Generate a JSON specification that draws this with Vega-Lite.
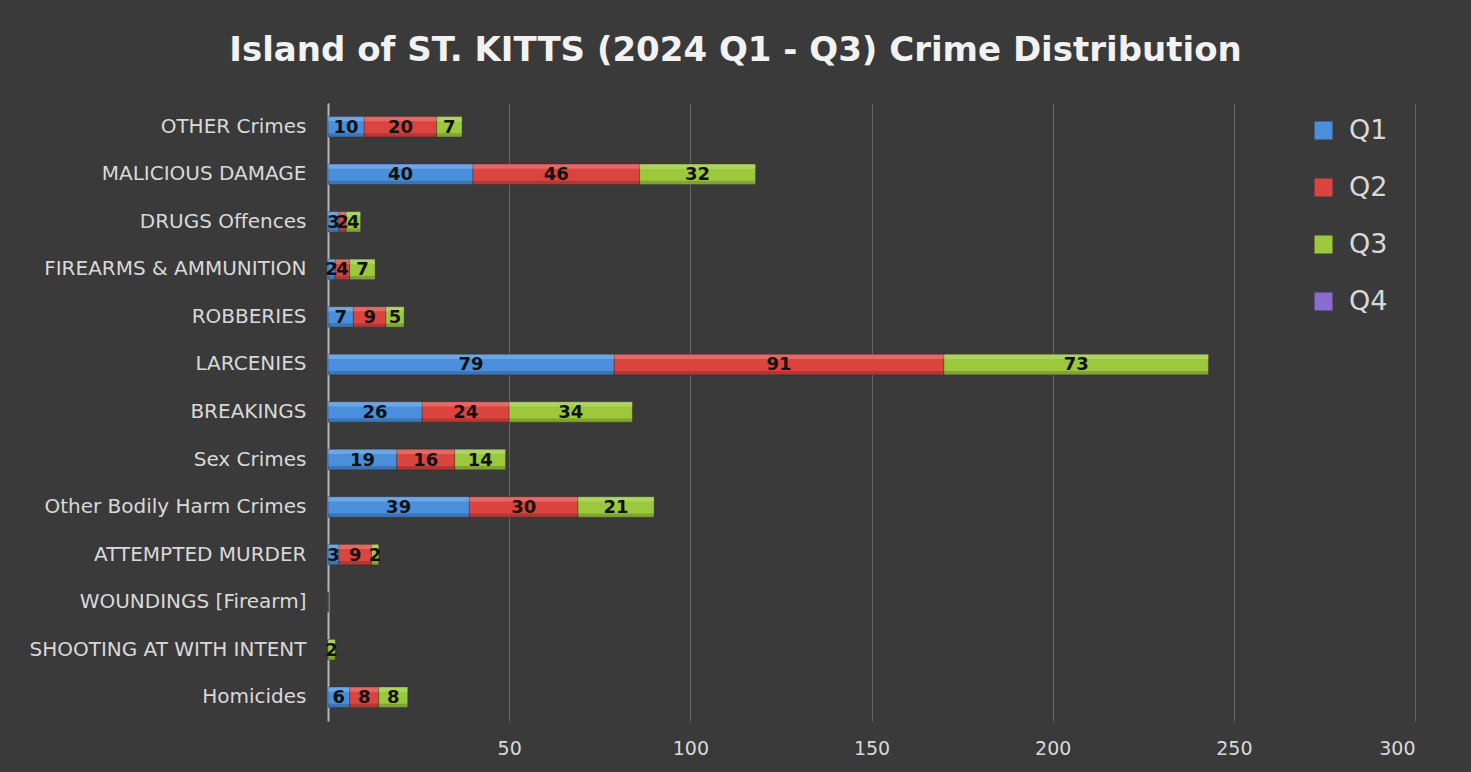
{
  "$schema": "https://vega.github.io/schema/vega-lite/v6.json",
  "width": 1087,
  "height": 618,
  "autosize": {"type": "none"},
  "padding": {"left": 328, "top": 103, "right": 56, "bottom": 51},
  "background": "#3a3a3a",
  "title": {
    "text": "Island of ST. KITTS (2024 Q1 - Q3) Crime Distribution",
    "anchor": "middle",
    "dx": -136,
    "offset": 35,
    "font": "DejaVu Sans",
    "fontSize": 34,
    "fontWeight": "bold",
    "color": "#f2f2f2",
    "limit": 0
  },
  "config": {
    "view": {"stroke": null},
    "font": "DejaVu Sans"
  },
  "data": {
    "values": [
      {"crime": "OTHER Crimes", "quarter": "Q1", "count": 10},
      {"crime": "OTHER Crimes", "quarter": "Q2", "count": 20},
      {"crime": "OTHER Crimes", "quarter": "Q3", "count": 7},
      {"crime": "MALICIOUS DAMAGE", "quarter": "Q1", "count": 40},
      {"crime": "MALICIOUS DAMAGE", "quarter": "Q2", "count": 46},
      {"crime": "MALICIOUS DAMAGE", "quarter": "Q3", "count": 32},
      {"crime": "DRUGS Offences", "quarter": "Q1", "count": 3},
      {"crime": "DRUGS Offences", "quarter": "Q2", "count": 2},
      {"crime": "DRUGS Offences", "quarter": "Q3", "count": 4},
      {"crime": "FIREARMS & AMMUNITION", "quarter": "Q1", "count": 2},
      {"crime": "FIREARMS & AMMUNITION", "quarter": "Q2", "count": 4},
      {"crime": "FIREARMS & AMMUNITION", "quarter": "Q3", "count": 7},
      {"crime": "ROBBERIES", "quarter": "Q1", "count": 7},
      {"crime": "ROBBERIES", "quarter": "Q2", "count": 9},
      {"crime": "ROBBERIES", "quarter": "Q3", "count": 5},
      {"crime": "LARCENIES", "quarter": "Q1", "count": 79},
      {"crime": "LARCENIES", "quarter": "Q2", "count": 91},
      {"crime": "LARCENIES", "quarter": "Q3", "count": 73},
      {"crime": "BREAKINGS", "quarter": "Q1", "count": 26},
      {"crime": "BREAKINGS", "quarter": "Q2", "count": 24},
      {"crime": "BREAKINGS", "quarter": "Q3", "count": 34},
      {"crime": "Sex Crimes", "quarter": "Q1", "count": 19},
      {"crime": "Sex Crimes", "quarter": "Q2", "count": 16},
      {"crime": "Sex Crimes", "quarter": "Q3", "count": 14},
      {"crime": "Other Bodily Harm Crimes", "quarter": "Q1", "count": 39},
      {"crime": "Other Bodily Harm Crimes", "quarter": "Q2", "count": 30},
      {"crime": "Other Bodily Harm Crimes", "quarter": "Q3", "count": 21},
      {"crime": "ATTEMPTED MURDER", "quarter": "Q1", "count": 3},
      {"crime": "ATTEMPTED MURDER", "quarter": "Q2", "count": 9},
      {"crime": "ATTEMPTED MURDER", "quarter": "Q3", "count": 2},
      {"crime": "WOUNDINGS [Firearm]", "quarter": "Q1", "count": 0},
      {"crime": "WOUNDINGS [Firearm]", "quarter": "Q2", "count": 0},
      {"crime": "WOUNDINGS [Firearm]", "quarter": "Q3", "count": 0},
      {"crime": "SHOOTING AT WITH INTENT", "quarter": "Q1", "count": 0},
      {"crime": "SHOOTING AT WITH INTENT", "quarter": "Q2", "count": 0},
      {"crime": "SHOOTING AT WITH INTENT", "quarter": "Q3", "count": 2},
      {"crime": "Homicides", "quarter": "Q1", "count": 6},
      {"crime": "Homicides", "quarter": "Q2", "count": 8},
      {"crime": "Homicides", "quarter": "Q3", "count": 8}
    ]
  },
  "encoding": {
    "y": {
      "field": "crime",
      "type": "nominal",
      "sort": ["OTHER Crimes", "MALICIOUS DAMAGE", "DRUGS Offences", "FIREARMS & AMMUNITION", "ROBBERIES", "LARCENIES", "BREAKINGS", "Sex Crimes", "Other Bodily Harm Crimes", "ATTEMPTED MURDER", "WOUNDINGS [Firearm]", "SHOOTING AT WITH INTENT", "Homicides"],
      "scale": {"paddingInner": 0.57, "paddingOuter": 0.285},
      "axis": {
        "title": null,
        "ticks": false,
        "domain": true,
        "domainColor": "#b5b5b5",
        "domainWidth": 2,
        "labelColor": "#d9d9d9",
        "labelFont": "DejaVu Sans",
        "labelFontSize": 20,
        "labelPadding": 22,
        "labelLimit": 0,
        "grid": false
      }
    }
  },
  "layer": [
    {
      "mark": {"type": "bar", "stroke": "#222222", "strokeOpacity": 0.3, "strokeWidth": 1},
      "encoding": {
        "x": {
          "field": "count",
          "type": "quantitative",
          "stack": "zero",
          "scale": {"domain": [0, 300], "nice": false},
          "axis": {
            "title": null,
            "values": [0, 50, 100, 150, 200, 250, 300],
            "labelExpr": "datum.value == 0 ? '' : datum.label",
            "domain": false,
            "ticks": false,
            "grid": true,
            "gridColor": "#666666",
            "gridWidth": 1,
            "labelColor": "#d9d9d9",
            "labelFont": "DejaVu Sans",
            "labelFontSize": 19,
            "labelPadding": 18
          }
        },
        "color": {
          "field": "quarter",
          "type": "nominal",
          "scale": {
            "domain": ["Q1", "Q2", "Q3", "Q4"],
            "range": ["#4a8fdc", "#db443f", "#9cc93b", "#8a6bd0"]
          },
          "legend": {
            "title": null,
            "orient": "none",
            "legendX": 982,
            "legendY": 14,
            "padding": 0,
            "symbolType": "square",
            "symbolSize": 324,
            "symbolStrokeWidth": 0,
            "symbolOpacity": 1,
            "labelColor": "#d9d9d9",
            "labelFont": "DejaVu Sans",
            "labelFontSize": 27,
            "labelOffset": 12,
            "rowPadding": 29
          }
        },
        "order": {"field": "quarter", "sort": "ascending"}
      }
    },
    {
      "mark": {"type": "bar", "color": "#ffffff", "opacity": 0.2, "height": {"band": 0.22}, "yOffset": -7.8},
      "encoding": {
        "x": {"field": "count", "type": "quantitative", "stack": "zero"},
        "detail": {"field": "quarter", "type": "nominal"},
        "order": {"field": "quarter", "sort": "ascending"}
      }
    },
    {
      "mark": {"type": "bar", "color": "#000000", "opacity": 0.18, "height": {"band": 0.18}, "yOffset": 8.3},
      "encoding": {
        "x": {"field": "count", "type": "quantitative", "stack": "zero"},
        "detail": {"field": "quarter", "type": "nominal"},
        "order": {"field": "quarter", "sort": "ascending"}
      }
    },
    {
      "transform": [
        {"filter": "datum.count > 0"},
        {"stack": "count", "groupby": ["crime"], "sort": [{"field": "quarter", "order": "ascending"}], "as": ["v0", "v1"]},
        {"fold": ["v0", "v1"], "as": ["edge", "pos"]}
      ],
      "mark": {"type": "text", "font": "DejaVu Sans", "fontSize": 18, "fontWeight": "bold", "color": "#111111", "baseline": "middle", "align": "center", "dy": 1},
      "encoding": {
        "x": {"field": "pos", "type": "quantitative", "aggregate": "mean"},
        "detail": {"field": "quarter", "type": "nominal"},
        "text": {"field": "count", "type": "quantitative"}
      }
    }
  ]
}
